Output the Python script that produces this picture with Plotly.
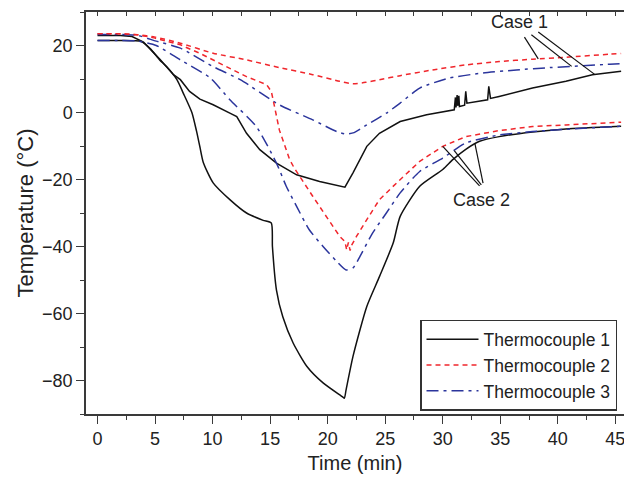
import numpy as np
import plotly.graph_objects as go

# ---- Case 1 (upper set of curves) ----
tc1_case1_t = [0, 2, 3, 4, 5.4, 6.0, 6.6, 7.2, 7.7, 8.0, 8.9, 10.05, 11.5, 12.1, 12.95, 14.1,
               15.55, 17.3, 19.3, 21.3, 21.5, 22.2, 23.4, 24.5, 25.7, 26.3, 28.6, 31.0,
               31.1, 31.15, 31.25, 31.3, 31.4, 31.45, 31.9, 32.0, 32.1, 32.9, 33.9, 34.0, 34.15,
               34.9, 37.8, 40.7, 43.0, 45.5]
tc1_case1_T = [23.0, 23.0, 22.7, 21.0, 16.0, 13.5, 11.3, 9.8, 7.5, 6.3, 4.0, 2.3, -0.2, -1.2, -6.2, -11.1,
               -15.1, -18.6, -20.6, -22.1, -22.3, -18.0, -10.1, -6.2, -3.7, -2.7, -0.7, 0.8,
               4.5, 1.5, 5.2, 2.0, 5.0, 1.8, 2.2, 6.3, 2.8, 3.3, 3.8, 7.8, 4.2,
               4.8, 7.3, 9.3, 11.3, 12.3]

tc2_case1_t = [0, 2, 3.5, 5, 7.2, 10.05, 12.95, 15.8, 18.7, 21.05, 22.2, 23.3, 24.5, 26.3,
               29.1, 32, 34.9, 37.8, 40.7, 44.5, 45.5]
tc2_case1_T = [23.5, 23.5, 23.2, 22.5, 20.7, 17.7, 15.7, 13.4, 11.3, 9.3, 8.6, 9.0, 9.8, 11.0,
               12.7, 14.2, 15.2, 15.9, 16.5, 17.4, 17.6]

tc3_case1_t = [0, 2, 3.5, 5.1, 7.2, 10.05, 12.4, 15.8, 18.7, 20.8, 21.6, 22.3, 23.4, 25.1, 26.3,
               28, 30.6, 33.5, 36.4, 39.3, 44.5, 45.5]
tc3_case1_T = [23.3, 23.3, 23.0, 21.3, 19.2, 13.7, 9.8, 2.3, -2.2, -5.7, -6.4, -6.0, -3.7, -0.2, 2.8,
               7.3, 10.3, 11.8, 12.7, 13.4, 14.4, 14.6]

# ---- Case 2 (lower set of curves) ----
tc1_case2_t = [0, 2, 3.8, 4.6, 5.4, 6.0, 6.9, 7.45, 8.2, 8.6, 8.9, 9.2, 10.05, 11.5, 12.95, 14.4,
               15.1, 15.2, 15.55, 16.1, 17.0, 18.2, 19.6, 21.3, 21.45, 21.6, 22.2, 23.4, 24.5,
               25.7, 26.3, 28, 30, 30.9, 32, 33.2, 34.9, 37.8, 40.7, 45.5]
tc1_case2_T = [21.5, 21.5, 21.2, 19.0, 15.7, 13.7, 9.8, 5.8, 0.0, -5.5, -10.3, -15.0, -21.0, -26.0, -30.0, -32.2,
               -33.0, -40.0, -53.0, -61.0, -68.8, -75.8, -80.7, -84.9, -85.3, -82.8, -72.8, -57.9, -49.0,
               -38.9, -31.0, -22.0, -17.0, -14.0, -11.0, -8.6, -7.2, -5.8, -4.9, -4.1]

tc2_case2_t = [0, 2, 3.5, 5, 7.2, 9, 10.9, 12.95, 14.7, 15.1, 15.26, 15.8, 16.7, 17.1, 18.7, 19.9,
               21.05, 21.5, 21.65, 21.8, 21.95, 22.1, 22.5, 23.4, 24.5, 26.0, 28, 30, 32, 34.9,
               37.8, 40.7, 45.5]
tc2_case2_T = [23.5, 23.5, 23.2, 22.2, 20.2, 17.5, 14.2, 10.7, 8.3, 6.3, 3.8, -5.2, -14.1, -16.6, -25.0, -31.0,
               -37.0, -38.5, -41.0, -38.8, -41.2, -39.5, -37.0, -32.0, -26.0, -21.0, -14.6, -10.1, -7.2, -5.4,
               -4.2, -3.7, -2.9]

tc3_case2_t = [0, 2, 3.5, 5.1, 7.2, 9.8, 11.5, 13.8, 15.55, 16.4, 17.3, 18.4, 19.6, 20.8, 21.6, 22.2,
               22.8, 23.9, 25.1, 26.3, 28, 30, 32, 34.9, 37.8, 40.7, 45.5]
tc3_case2_T = [21.5, 21.5, 21.3, 20.0, 15.7, 10.3, 3.8, -4.2, -15.1, -22.0, -28.0, -35.0, -40.0, -44.5, -47.0, -46.4,
               -43.0, -36.0, -30.0, -24.0, -17.6, -13.6, -9.1, -6.7, -5.7, -5.0, -4.1]

x_ticks = [0, 5, 10, 15, 20, 25, 30, 35, 40, 45]
y_ticks = [20, 0, -20, -40, -60, -80]

BLACK = "#111111"
RED = "#f0262c"
BLUE = "#2b359c"
FONT = "Liberation Sans, Arial, Helvetica, sans-serif"
AXIS = "#3a3a3a"
TEXT = "#222222"

# (t, T, name, colour, dash, in legend, smooth)
series = [
    (tc1_case1_t, tc1_case1_T, "Thermocouple 1", BLACK, "solid", True, False),
    (tc2_case1_t, tc2_case1_T, "Thermocouple 2", RED, "5px,4px", True, True),
    (tc3_case1_t, tc3_case1_T, "Thermocouple 3", BLUE, "12px,5px,3px,5px", True, True),
    (tc1_case2_t, tc1_case2_T, "Thermocouple 1", BLACK, "solid", False, True),
    (tc2_case2_t, tc2_case2_T, "Thermocouple 2", RED, "5px,4px", False, False),
    (tc3_case2_t, tc3_case2_T, "Thermocouple 3", BLUE, "12px,5px,3px,5px", False, True),
]

fig = go.Figure()
for t, T, name, color, dash, show, smooth in series:
    line = dict(color=color, width=1.5, dash=dash)
    if smooth:
        line.update(shape="spline", smoothing=0.6)
    fig.add_trace(go.Scatter(x=t, y=T, mode="lines", name=name, legendgroup=name,
                             showlegend=show, line=line))

# carrier for the top axis
fig.add_trace(go.Scatter(x=[None], y=[None], xaxis="x2", showlegend=False, hoverinfo="skip"))

# leader lines from the case labels to the curves
def leader(t_from, T_from, t_arr, T_arr, t_at):
    fig.add_shape(type="line", xref="x", yref="y",
                  x0=t_from, y0=T_from, x1=t_at, y1=float(np.interp(t_at, t_arr, T_arr)),
                  line=dict(color=BLACK, width=1.2))

leader(37.1, 22.5, tc2_case1_t, tc2_case1_T, 38.3)
leader(37.7, 23.2, tc3_case1_t, tc3_case1_T, 41.2)
leader(38.3, 24.0, tc1_case1_t, tc1_case1_T, 43.2)
leader(33.2, -21.9, tc2_case2_t, tc2_case2_T, 30.0)
leader(33.35, -21.6, tc3_case2_t, tc3_case2_T, 31.0)
leader(33.5, -21.1, tc1_case2_t, tc1_case2_T, 32.8)

fig.add_annotation(x=36.7, y=27.0, xref="x", yref="y", text="Case 1", showarrow=False,
                   font=dict(family=FONT, size=18, color=TEXT))
fig.add_annotation(x=33.4, y=-26.0, xref="x", yref="y", text="Case 2", showarrow=False,
                   font=dict(family=FONT, size=18, color=TEXT))

fig.update_layout(
    width=624, height=477,
    margin=dict(l=86, r=0, t=12, b=63),
    paper_bgcolor="white", plot_bgcolor="white",
    font=dict(family=FONT, size=18, color=TEXT),
    showlegend=True,
    legend=dict(
        x=0.987, y=0.234, xanchor="right", yanchor="top",
        bgcolor="white", bordercolor="#333333", borderwidth=1.5,
        font=dict(family=FONT, size=17.5, color=TEXT),
        tracegroupgap=0, itemwidth=52,
    ),
    xaxis=dict(
        range=[-1.0, 45.75], tickmode="array", tickvals=x_ticks, ticklabeloverflow="allow",
        showgrid=False, zeroline=False, showline=True, linecolor=AXIS, linewidth=1.5,
        ticks="outside", ticklen=8, tickwidth=1.3, tickcolor=AXIS,
        minor=dict(ticks="outside", ticklen=4, dtick=2.5, tick0=0, tickcolor=AXIS, tickwidth=1.3),
        title=dict(text="Time (min)", font=dict(size=20), standoff=8),
        tickfont=dict(size=18),
    ),
    xaxis2=dict(
        range=[-1.0, 45.75], overlaying="x", side="top", matches="x",
        showgrid=False, zeroline=False, showline=True, linecolor=AXIS, linewidth=1.5,
        ticks="inside", ticklen=4, tickwidth=1.3, tickcolor=AXIS,
        tickmode="linear", tick0=0, dtick=2.5, showticklabels=False,
    ),
    yaxis=dict(
        range=[-90, 30], tickmode="array", tickvals=y_ticks,
        showgrid=False, zeroline=False, showline=True, linecolor=AXIS, linewidth=1.5,
        ticks="outside", ticklen=8, tickwidth=1.3, tickcolor=AXIS,
        minor=dict(ticks="outside", ticklen=4, dtick=10, tick0=0, tickcolor=AXIS, tickwidth=1.3),
        title=dict(text="Temperature (°C)", font=dict(size=22), standoff=2),
        tickfont=dict(size=18),
    ),
)

fig.write_html("out.html")
